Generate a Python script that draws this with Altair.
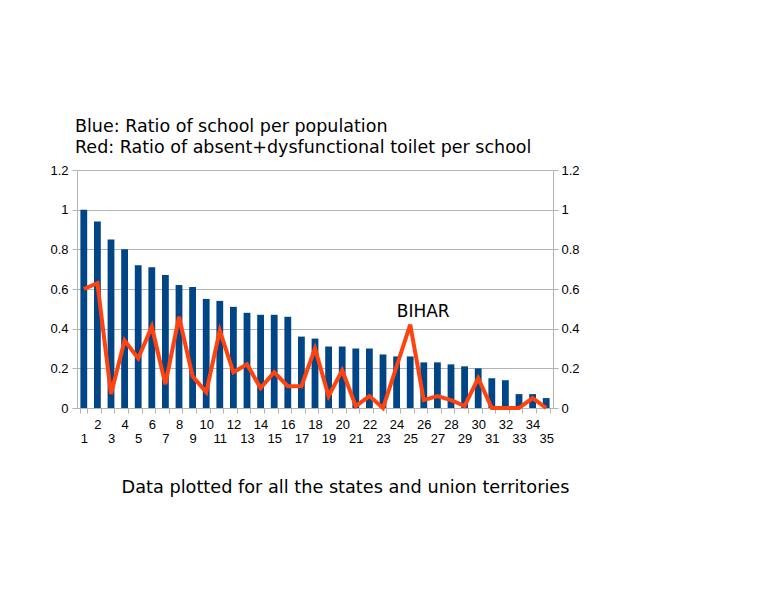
import altair as alt
import pandas as pd

states = list(range(1, 36))
school_ratio = [1.00, 0.94, 0.85, 0.80, 0.72, 0.71, 0.67, 0.62, 0.61, 0.55,
                0.54, 0.51, 0.48, 0.47, 0.47, 0.46, 0.36, 0.35, 0.31, 0.31,
                0.30, 0.30, 0.27, 0.26, 0.26, 0.23, 0.23, 0.22, 0.21, 0.20,
                0.15, 0.14, 0.07, 0.07, 0.05]
toilet_ratio = [0.60, 0.63, 0.07, 0.34, 0.25, 0.41, 0.12, 0.46, 0.16, 0.08,
                0.39, 0.18, 0.22, 0.10, 0.18, 0.11, 0.11, 0.30, 0.06, 0.19,
                0.01, 0.06, 0.00, 0.21, 0.42, 0.04, 0.06, 0.04, 0.01, 0.15,
                0.00, 0.00, 0.00, 0.05, 0.00]
annot_state = [25]
annot_value = [0.42]
annot_label = ["BIHAR"]
y_ticks = [0, 0.2, 0.4, 0.6, 0.8, 1.0, 1.2]

title_lines = ["Blue: Ratio of school per population",
               "Red: Ratio of absent+dysfunctional toilet per school"]
caption = "Data plotted for all the states and union territories"

df = pd.DataFrame({"state": states, "school": school_ratio, "toilet": toilet_ratio})
ann = pd.DataFrame({"state": annot_state, "toilet": annot_value, "label": annot_label})

GRAY = "#b3b3b3"
LABEL_FONT = "Liberation Sans"
TEXT_FONT = "DejaVu Sans"

xscale = alt.Scale(paddingInner=0.5, paddingOuter=0.25)
yscale = alt.Scale(domain=[0, 1.2], nice=False)

x_axis = alt.Axis(
    title=caption, titleFont=TEXT_FONT, titleFontSize=17.7, titleFontWeight="normal",
    titleColor="black", titleX=268, titleY=84, titleBaseline="alphabetic",
    labelAngle=0, labelFont=LABEL_FONT, labelFontSize=13, labelColor="black",
    labelPadding={"condition": {"test": "datum.value % 2 == 0", "value": 5}, "value": 19},
    labelOverlap=False, tickBand="extent", tickSize=5, tickColor=GRAY,
    domainColor=GRAY, grid=False,
)


def y_axis(orient, grid, pad):
    return alt.Axis(title=None, values=y_ticks, format="~g", labelFont=LABEL_FONT,
                    labelFontSize=13, labelColor="black", labelPadding=pad,
                    labelOverlap=False, labelBound=False, tickSize=5, tickColor=GRAY,
                    domainColor=GRAY, grid=grid, gridColor=GRAY, orient=orient)


bars = alt.Chart(df).mark_bar(color="#004586").encode(
    x=alt.X("state:O", scale=xscale, axis=x_axis),
    y=alt.Y("school:Q", scale=yscale, axis=y_axis("left", True, 4)),
)

line = alt.Chart(df).mark_line(color="#ff420e", strokeWidth=4, strokeJoin="miter").encode(
    x=alt.X("state:O", scale=xscale),
    y=alt.Y("toilet:Q", scale=yscale, axis=y_axis("right", False, 3)),
)

text = alt.Chart(ann).mark_text(font=TEXT_FONT, fontSize=17, color="black",
                                 dx=13, dy=-8, baseline="alphabetic").encode(
    x=alt.X("state:O", scale=xscale),
    y=alt.Y("toilet:Q", scale=yscale, axis=y_axis("right", False, 3)),
    text="label:N",
)

right = alt.layer(line, text)

chart = alt.layer(bars, right).resolve_scale(y="independent").properties(
    width=476, height=238,
    title=alt.TitleParams(text=title_lines, anchor="start", font=TEXT_FONT,
                          fontSize=17.5, fontWeight="normal", color="black",
                          lineHeight=21, offset=8, dx=-2, frame="group"),
    autosize=alt.AutoSizeParams(type="none"),
    padding={"left": 69, "top": 162, "right": 190, "bottom": 150},
).configure_view(stroke=None)

chart.save("out.html", embed_options={"renderer": "svg", "actions": False})
